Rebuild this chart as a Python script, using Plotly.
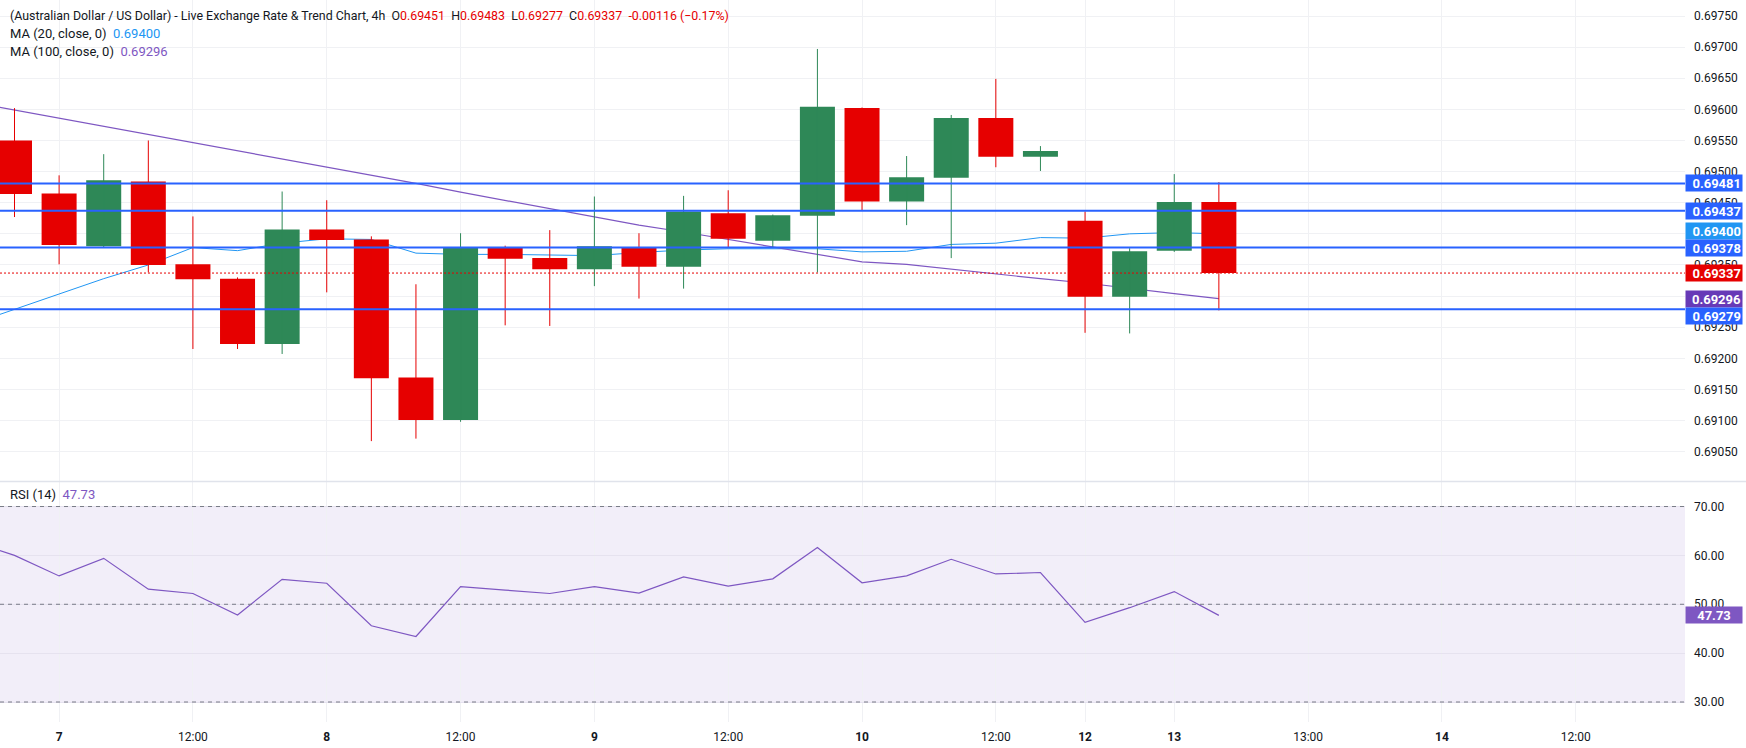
import plotly.graph_objects as go

# ---------------- data ----------------
candle_idx = list(range(28))
opens = [0.69550, 0.69465, 0.69380, 0.69484, 0.69351, 0.69328, 0.69223, 0.69407, 0.69391, 0.69169,
         0.69101, 0.69379, 0.69361, 0.69343, 0.69379, 0.69347, 0.69433, 0.69389, 0.69429, 0.69602,
         0.69452, 0.69490, 0.69586, 0.69524, 0.69421, 0.69299, 0.69373, 0.69451]
highs = [0.69602, 0.69494, 0.69528, 0.69550, 0.69428, 0.69330, 0.69468, 0.69454, 0.69396, 0.69319,
         0.69401, 0.69381, 0.69406, 0.69460, 0.69401, 0.69461, 0.69470, 0.69431, 0.69697, 0.69603,
         0.69525, 0.69591, 0.69649, 0.69541, 0.69436, 0.69377, 0.69496, 0.69483]
lows = [0.69427, 0.69351, 0.69378, 0.69338, 0.69215, 0.69215, 0.69207, 0.69306, 0.69067, 0.69071,
        0.69098, 0.69253, 0.69252, 0.69316, 0.69296, 0.69312, 0.69378, 0.69378, 0.69338, 0.69437,
        0.69414, 0.69361, 0.69507, 0.69501, 0.69241, 0.69240, 0.69371, 0.69277]
closes = [0.69464, 0.69382, 0.69486, 0.69350, 0.69327, 0.69223, 0.69407, 0.69390, 0.69168, 0.69101,
          0.69379, 0.69360, 0.69343, 0.69380, 0.69347, 0.69436, 0.69392, 0.69430, 0.69604, 0.69452,
          0.69491, 0.69586, 0.69524, 0.69533, 0.69299, 0.69372, 0.69451, 0.69337]

# indicators (start one bar before the first visible candle)
ind_idx = list(range(-1, 28))
ma20 = [0.69254, 0.69279, 0.69304, 0.69328, 0.69350, 0.69378, 0.69373, 0.69385, 0.69392, 0.69391,
        0.69369, 0.69367, 0.69367, 0.69366, 0.69365, 0.69370, 0.69374, 0.69376, 0.69376, 0.69376,
        0.69371, 0.69372, 0.69383, 0.69385, 0.69394, 0.69393, 0.69400, 0.69402, 0.69400]
ma100 = [0.69612, 0.69599, 0.69586, 0.69573, 0.69560, 0.69546, 0.69533, 0.69520, 0.69507, 0.69494,
         0.69481, 0.69467, 0.69454, 0.69441, 0.69428, 0.69414, 0.69403, 0.69391, 0.69379, 0.69367,
         0.69355, 0.69351, 0.69343, 0.69335, 0.69328, 0.69321, 0.69312, 0.69304, 0.69296]
rsi = [63.0, 60.0, 55.8, 59.4, 53.1, 52.2, 47.8, 55.1, 54.3, 45.6,
       43.4, 53.6, 52.9, 52.2, 53.6, 52.3, 55.6, 53.7, 55.2, 61.6,
       54.4, 55.8, 59.2, 56.2, 56.5, 46.3, 49.3, 52.6, 47.73]

levels = [0.69481, 0.69437, 0.69378, 0.69279]
last_price = 0.69337
ma20_last = 0.69400
ma100_last = 0.69296
rsi_last = 47.73
change_abs = -0.00116
change_pct = -0.17

x_tick_pos = [1, 4, 7, 10, 13, 16, 19, 22, 24, 26, 29, 32, 35]
x_tick_text = ["7", "12:00", "8", "12:00", "9", "12:00", "10", "12:00", "12", "13", "13:00", "14", "12:00"]
x_tick_is_day = [True, False, True, False, True, False, True, False, True, True, False, True, False]
price_ticks = [0.6905, 0.6910, 0.6915, 0.6920, 0.6925, 0.6930, 0.6935, 0.6940, 0.6945,
               0.6950, 0.6955, 0.6960, 0.6965, 0.6970, 0.6975]
rsi_ticks = [30, 40, 50, 60, 70]

# ---------------- style ----------------
UP = "#2E8857"
DOWN = "#E60000"
LEVEL = "#2962FF"
MA20C = "#2196F3"
MA100C = "#7E57C2"
MA100BOX = "#673AB7"
RSIC = "#7E57C2"
GRID = "#F0F1F4"
TXT = "#131722"
FONT = "Roboto"

fig = go.Figure()

# moving averages (base subplot, under the candles)
fig.add_trace(go.Scatter(x=ind_idx, y=ma20, mode="lines", line=dict(color=MA20C, width=1),
                         xaxis="x", yaxis="y", hoverinfo="skip"))
fig.add_trace(go.Scatter(x=ind_idx, y=ma100, mode="lines", line=dict(color=MA100C, width=1.2),
                         xaxis="x", yaxis="y", hoverinfo="skip"))

# candles on overlay subplot
up = [i for i in candle_idx if closes[i] >= opens[i]]
dn = [i for i in candle_idx if closes[i] < opens[i]]

def wick_xy(ids):
    xs, ys = [], []
    for i in ids:
        xs += [i, i, None]
        ys += [lows[i], highs[i], None]
    return xs, ys

for ids, col in ((up, UP), (dn, DOWN)):
    wx, wy = wick_xy(ids)
    fig.add_trace(go.Scatter(x=wx, y=wy, mode="lines", line=dict(color=col, width=1),
                             xaxis="x", yaxis="y3", hoverinfo="skip"))

fig.add_trace(go.Bar(x=up, y=[closes[i] - opens[i] for i in up], base=[opens[i] for i in up],
                     width=0.785, marker=dict(color=UP, line=dict(width=0)),
                     xaxis="x", yaxis="y3", hoverinfo="skip"))
fig.add_trace(go.Bar(x=dn, y=[opens[i] - closes[i] for i in dn], base=[closes[i] for i in dn],
                     width=0.785, marker=dict(color=DOWN, line=dict(width=0)),
                     xaxis="x", yaxis="y3", hoverinfo="skip"))

# RSI
fig.add_trace(go.Scatter(x=ind_idx, y=rsi, mode="lines", line=dict(color=RSIC, width=1.2),
                         xaxis="x2", yaxis="y2", hoverinfo="skip"))

X_RANGE = [-0.325, 37.45]
Y_RANGE = [0.690021, 0.697757]
RSI_RANGE = [25.91, 75.12]
SPLIT = 0.3331

axis_common = dict(showline=False, zeroline=False, ticks="", showspikes=False)

fig.update_layout(
    width=1746, height=748,
    margin=dict(l=0, r=61, t=0, b=26),
    paper_bgcolor="white", plot_bgcolor="white",
    showlegend=False, barmode="overlay",
    font=dict(family=FONT, size=12, color=TXT),
    xaxis=dict(domain=[0, 1], range=X_RANGE, anchor="y", tickvals=x_tick_pos,
               showticklabels=False, showgrid=True, gridcolor=GRID, gridwidth=1, **axis_common),
    xaxis2=dict(domain=[0, 1], range=X_RANGE, anchor="y2", matches="x", tickvals=x_tick_pos,
                ticktext=[f"<b>{t}</b>" if d else t for t, d in zip(x_tick_text, x_tick_is_day)],
                showticklabels=True, showgrid=True, gridcolor=GRID, gridwidth=1,
                tickfont=dict(size=12, color=TXT), ticklabelstandoff=6, **axis_common),
    yaxis=dict(domain=[SPLIT, 1], range=Y_RANGE, anchor="x", side="right",
               tickvals=price_ticks, ticktext=[f"{v:.5f}" for v in price_ticks],
               showgrid=True, gridcolor=GRID, gridwidth=1,
               tickfont=dict(size=12, color=TXT), ticklabelstandoff=8, **axis_common),
    yaxis3=dict(domain=[SPLIT, 1], range=Y_RANGE, anchor="x", overlaying="y", side="right",
                showticklabels=False, showgrid=False, **axis_common),
    yaxis2=dict(domain=[0, SPLIT], range=RSI_RANGE, anchor="x2", side="right",
                tickvals=rsi_ticks, ticktext=[f"{v:.2f}" for v in rsi_ticks],
                showgrid=True, gridcolor="#E6E2EF", gridwidth=1,
                tickfont=dict(size=12, color=TXT), ticklabelstandoff=8, **axis_common),
)

shapes = []
# RSI band
shapes.append(dict(type="rect", xref="paper", x0=0, x1=1, yref="y2", y0=30, y1=70,
                   fillcolor="rgba(126,87,194,0.10)", line=dict(width=0), layer="below"))
for v in (70, 50, 30):
    shapes.append(dict(type="line", xref="paper", x0=0, x1=1, yref="y2", y0=v, y1=v,
                       line=dict(color="#787B86", width=1, dash="4px,4px"), layer="above"))
# support / resistance levels
for lv in levels:
    shapes.append(dict(type="line", xref="paper", x0=0, x1=1, yref="y", y0=lv, y1=lv,
                       line=dict(color=LEVEL, width=2), layer="above"))
# last price line
shapes.append(dict(type="line", xref="paper", x0=0, x1=1, yref="y", y0=last_price, y1=last_price,
                   line=dict(color=DOWN, width=1, dash="2px,2px"), layer="above"))
# pane separator
shapes.append(dict(type="line", xref="paper", x0=0, x1=1746 / 1685, yref="paper", y0=SPLIT, y1=SPLIT,
                   line=dict(color="#E0E3EB", width=1.5), layer="above"))
fig.update_layout(shapes=shapes)

ann = []
# legend rows
red = lambda s: f"<span style='color:{DOWN}'>{s}</span>"
nb = "\u00a0"
row1 = ("(Australian Dollar / US Dollar) - Live Exchange Rate &amp; Trend Chart, 4h" + nb * 2 +
        "O" + red(f"{opens[-1]:.5f}") + nb * 2 + "H" + red(f"{highs[-1]:.5f}") + nb * 2 +
        "L" + red(f"{lows[-1]:.5f}") + nb * 2 + "C" + red(f"{closes[-1]:.5f}") + nb * 2 +
        red(f"{change_abs:.5f}" + " (\u2212" + f"{abs(change_pct):.2f}%)"))
row2 = "MA (20, close, 0)" + nb * 2 + f"<span style='color:{MA20C}'>{ma20_last:.5f}</span>"
row3 = "MA (100, close, 0)" + nb * 2 + f"<span style='color:{MA100C}'>{ma100_last:.5f}</span>"
row4 = "RSI (14)" + nb * 2 + f"<span style='color:{RSIC}'>{rsi_last:.2f}</span>"
H = 722.0
for txt, ypix, fs in ((row1, 15.5, 12.4), (row2, 33.5, 13), (row3, 52, 13), (row4, 494, 13)):
    ann.append(dict(xref="paper", yref="paper", x=0, y=1 - ypix / H, xanchor="left", yanchor="middle",
                    xshift=8, text=txt, showarrow=False, font=dict(family=FONT, size=fs, color=TXT)))

# axis price boxes
boxes = [(levels[0], LEVEL, 0), (levels[1], LEVEL, 0), (ma20_last, MA20C, 2.5), (levels[2], LEVEL, 0),
         (last_price, DOWN, 0), (ma100_last, MA100BOX, 0), (levels[3], LEVEL, -7)]
for v, col, ys in boxes:
    ann.append(dict(xref="paper", yref="y", x=1, y=v, xanchor="left", yanchor="middle", yshift=ys,
                    text=f"<b>{v:.5f}</b>", showarrow=False, bgcolor=col, borderpad=1,
                    width=54, height=14, align="right",
                    font=dict(family=FONT, size=13, color="white")))
ann.append(dict(xref="paper", yref="y2", x=1, y=rsi_last, xanchor="left", yanchor="middle",
                text=f"<b>{rsi_last:.2f}</b>", showarrow=False, bgcolor=RSIC, borderpad=1,
                width=54, height=14, align="center",
                font=dict(family=FONT, size=13, color="white")))
fig.update_layout(annotations=ann)

fig.write_html("out.html")
